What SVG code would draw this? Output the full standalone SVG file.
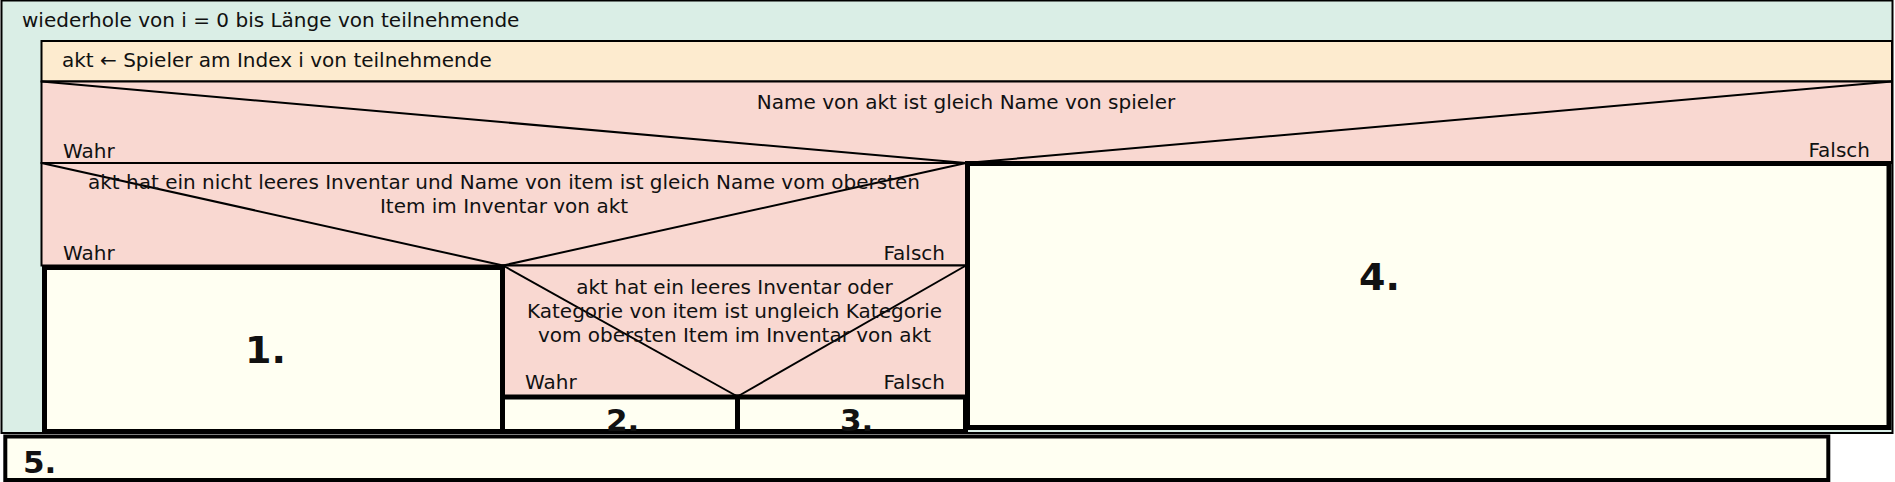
<svg xmlns="http://www.w3.org/2000/svg" width="1895" height="482" viewBox="0 0 1895 482">
<style>
  .t { font-family: "DejaVu Sans", Verdana, sans-serif; font-size: 20px; fill: #111; }
  .c { text-anchor: middle; }
  .e { text-anchor: end; }
  .n { font-family: "DejaVu Sans", Verdana, sans-serif; font-weight: bold; fill: #111; }
  .thin { stroke: #000; stroke-width: 2; fill: none; }
  .loop { fill: #DAEEE6; stroke: #000; stroke-width: 2; }
  .asg { fill: #FDEBCF; stroke: #000; stroke-width: 2; }
  .dec { fill: #F9D8D1; stroke: #000; stroke-width: 2; }
  .box { fill: #FFFFF2; stroke: #000; stroke-width: 5; }
</style>
<rect x="0" y="0" width="1895" height="482" fill="#FFFFFF"/>
<g id="loop">
  <rect class="loop" x="1.5" y="0.5" width="1891" height="432.5"/>
  <text class="t" x="22" y="27">wiederhole von i = 0 bis Länge von teilnehmende</text>
</g>
<g id="assign">
  <rect class="asg" x="41.5" y="41" width="1850.5" height="40.5"/>
  <text class="t" x="62" y="67">akt ← Spieler am Index i von teilnehmende</text>
</g>
<g id="dec1">
  <rect class="dec" x="41.5" y="81.5" width="1850.5" height="81.5"/>
  <line class="thin" x1="41.5" y1="81.5" x2="966" y2="163"/>
  <line class="thin" x1="1892" y1="81.5" x2="966" y2="163"/>
  <text class="t c" x="966" y="109">Name von akt ist gleich Name von spieler</text>
  <text class="t" x="63" y="158">Wahr</text>
  <text class="t e" x="1870" y="157">Falsch</text>
</g>
<g id="dec2">
  <rect class="dec" x="41.5" y="163" width="924.5" height="102.5"/>
  <line class="thin" x1="41.5" y1="163" x2="503" y2="265.5"/>
  <line class="thin" x1="966" y1="163" x2="503" y2="265.5"/>
  <text class="t c" x="504" y="189">akt hat ein nicht leeres Inventar und Name von item ist gleich Name vom obersten</text>
  <text class="t c" x="504" y="213">Item im Inventar von akt</text>
  <text class="t" x="63" y="260">Wahr</text>
  <text class="t e" x="945" y="260">Falsch</text>
</g>
<g id="dec3">
  <rect class="dec" x="503" y="265.5" width="463" height="131"/>
  <line class="thin" x1="503" y1="265.5" x2="737.5" y2="396.5"/>
  <line class="thin" x1="966" y1="265.5" x2="737.5" y2="396.5"/>
  <text class="t c" x="734.5" y="294">akt hat ein leeres Inventar oder</text>
  <text class="t c" x="734.5" y="318">Kategorie von item ist ungleich Kategorie</text>
  <text class="t c" x="734.5" y="342">vom obersten Item im Inventar von akt</text>
  <text class="t" x="525" y="389">Wahr</text>
  <text class="t e" x="945" y="389">Falsch</text>
</g>
<g id="box4">
  <rect class="box" x="967.5" y="163.5" width="921.5" height="264"/>
  <text class="n" x="1359" y="290" font-size="38">4.</text>
</g>
<g id="box1">
  <rect class="box" x="44.5" y="267.5" width="458" height="164"/>
  <text class="n" x="245" y="363" font-size="38">1.</text>
</g>
<g id="box2">
  <rect class="box" x="502.5" y="397" width="235" height="34.5"/>
  <text class="n" x="606" y="431" font-size="31">2.</text>
</g>
<g id="box3">
  <rect class="box" x="737.5" y="397" width="228" height="34.5"/>
  <text class="n" x="840" y="431" font-size="31">3.</text>
</g>
<g id="box5">
  <rect class="box" x="5.3" y="436.5" width="1823" height="43.5" style="stroke-width:4"/>
  <text class="n" x="23" y="473" font-size="31">5.</text>
</g>
<g id="connectors"></g>
</svg>
